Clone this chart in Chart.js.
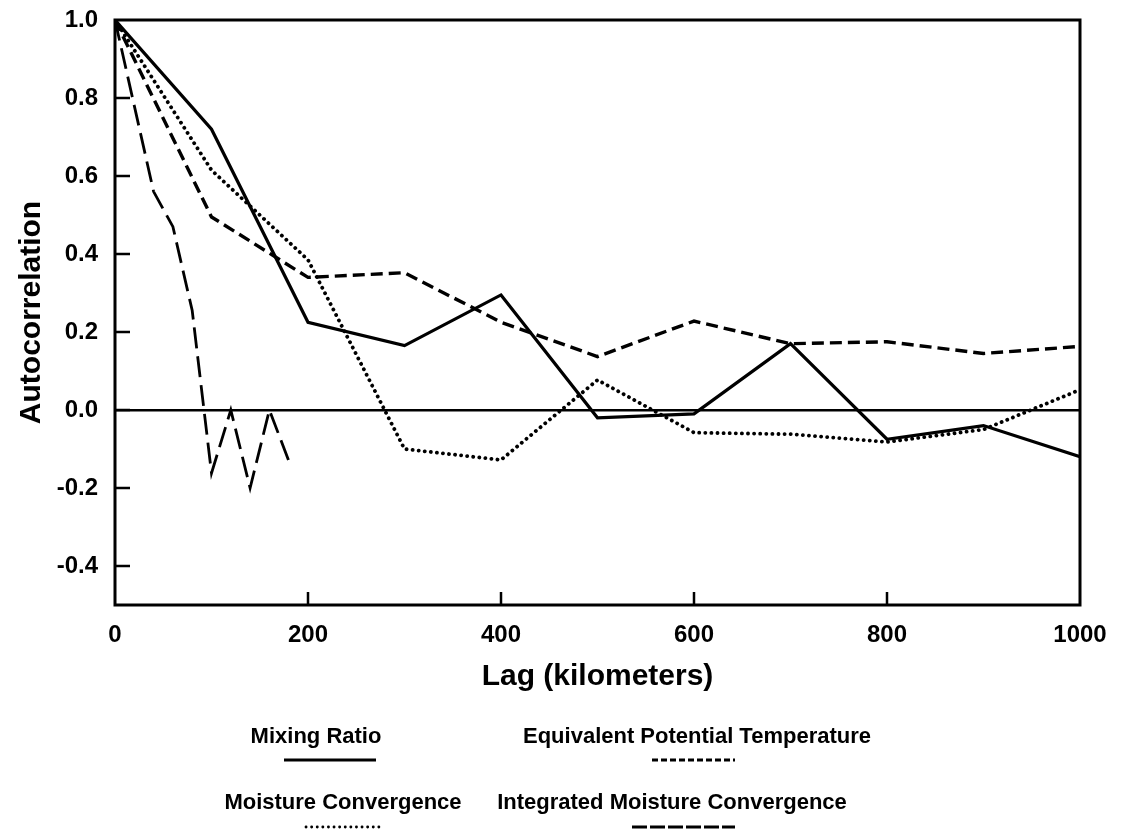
<!DOCTYPE html>
<html>
<head>
<meta charset="utf-8">
<script src="https://cdn.jsdelivr.net/npm/chart.js@4/dist/chart.umd.min.js"></script>
<style>
  html, body { margin: 0; padding: 0; background: #fff; }
  canvas { display: block; }
</style>
</head>
<body>
<canvas id="c" width="1121" height="834"></canvas>
<script>
// ---- data ----
const lags = [0, 100, 200, 300, 400, 500, 600, 700, 800, 900, 1000];
const mixingRatio = [1.0, 0.72, 0.225, 0.165, 0.295, -0.02, -0.01, 0.17, -0.075, -0.04, -0.12];
const equivPotTemp = [1.0, 0.495, 0.34, 0.352, 0.225, 0.137, 0.228, 0.17, 0.175, 0.145, 0.163];
const moistureConv = [1.0, 0.615, 0.385, -0.10, -0.128, 0.077, -0.058, -0.062, -0.082, -0.05, 0.052];
const intLags = [0, 40, 60, 80, 100, 120, 140, 160, 180];
const intMoistureConv = [1.0, 0.56, 0.47, 0.255, -0.162, 0.0, -0.2, 0.0, -0.13];
const seriesNames = ['Mixing Ratio', 'Equivalent Potential Temperature', 'Moisture Convergence', 'Integrated Moisture Convergence'];
const xTickValues = [0, 200, 400, 600, 800, 1000];
const yTickValues = [-0.4, -0.2, 0.0, 0.2, 0.4, 0.6, 0.8, 1.0];

const pts = (xs, ys) => xs.map((x, i) => ({x: x, y: ys[i]}));
const FONT = "'Liberation Sans', Arial, Helvetica, sans-serif";

const insideTicksAndBox = {
  id: 'insideTicksAndBox',
  afterDatasetsDraw(chart) {
    const {ctx, chartArea: a, scales} = chart;
    ctx.save();
    ctx.strokeStyle = '#000';
    ctx.lineWidth = 2.5;
    ctx.beginPath();
    yTickValues.forEach(v => {
      if (v >= 1.0) return;
      const y = scales.y.getPixelForValue(v);
      ctx.moveTo(a.left, y); ctx.lineTo(a.left + 15, y);
    });
    xTickValues.forEach(v => {
      if (v <= 0 || v >= 1000) return;
      const x = scales.x.getPixelForValue(v);
      ctx.moveTo(x, a.bottom); ctx.lineTo(x, a.bottom - 13);
    });
    ctx.stroke();
    ctx.lineWidth = 3;
    ctx.strokeRect(a.left, a.top, a.right - a.left, a.bottom - a.top);
    ctx.restore();
  }
};

const customLegend = {
  id: 'customLegend',
  afterDraw(chart, args, opts) {
    const ctx = chart.ctx;
    ctx.save();
    ctx.fillStyle = '#000';
    ctx.font = 'bold 22px ' + FONT;
    ctx.textAlign = 'center';
    ctx.textBaseline = 'middle';
    opts.items.forEach((it, i) => {
      const ds = chart.data.datasets[i];
      ctx.fillText(ds.label, it.tx, it.ty);
      ctx.beginPath();
      ctx.lineWidth = 2.8;
      ctx.strokeStyle = '#000';
      ctx.lineCap = ds.borderCapStyle || 'butt';
      ctx.setLineDash(ds.legendDash || []);
      ctx.moveTo(it.x1, it.ly); ctx.lineTo(it.x2, it.ly);
      ctx.stroke();
    });
    ctx.restore();
  }
};

new Chart(document.getElementById('c'), {
  type: 'line',
  data: {
    datasets: [
      { label: seriesNames[0], data: pts(lags, mixingRatio), borderColor: '#000', borderWidth: 3.2, pointRadius: 0, borderDash: [], legendDash: [] },
      { label: seriesNames[1], data: pts(lags, equivPotTemp), borderColor: '#000', borderWidth: 3.4, pointRadius: 0, borderDash: [12, 6], legendDash: [6, 3] },
      { label: seriesNames[2], data: pts(lags, moistureConv), borderColor: '#000', borderWidth: 3.8, pointRadius: 0, borderDash: [0.1, 6], borderCapStyle: 'round', legendDash: [0.1, 5.5] },
      { label: seriesNames[3], data: pts(intLags, intMoistureConv), borderColor: '#000', borderWidth: 2.8, pointRadius: 0, borderDash: [21, 8], legendDash: [15, 3] }
    ]
  },
  options: {
    responsive: false,
    animation: false,
    layout: { padding: { top: 20, right: 41, bottom: 139, left: 0 } },
    plugins: {
      legend: { display: false },
      tooltip: { enabled: false },
      customLegend: {
        items: [
          { tx: 316, ty: 737, x1: 284, x2: 376, ly: 760 },
          { tx: 697, ty: 737, x1: 652, x2: 735, ly: 760 },
          { tx: 343, ty: 803, x1: 306, x2: 381, ly: 827 },
          { tx: 672, ty: 803, x1: 632, x2: 735, ly: 827 }
        ]
      }
    },
    scales: {
      x: {
        type: 'linear',
        min: 0, max: 1000,
        afterBuildTicks: s => { s.ticks = xTickValues.map(v => ({value: v})); },
        afterFit: s => { s.height = 90; s.paddingLeft = 0; s.paddingRight = 0; },
        grid: { display: false, drawTicks: false },
        border: { display: false },
        ticks: { color: '#000', font: { family: FONT, size: 24, weight: 'bold' }, padding: 16, maxRotation: 0, callback: v => String(v) },
        title: { display: true, text: 'Lag (kilometers)', color: '#000', font: { family: FONT, size: 30, weight: 'bold' }, padding: { top: 0, bottom: 0 } }
      },
      y: {
        type: 'linear',
        min: -0.5, max: 1.0,
        afterBuildTicks: s => { s.ticks = yTickValues.map(v => ({value: v})); },
        afterFit: s => { s.width = 115; s.paddingTop = 0; s.paddingBottom = 0; },
        grid: {
          drawTicks: false,
          color: c => (c.tick && Math.abs(c.tick.value) < 1e-9) ? '#000' : 'rgba(0,0,0,0)',
          lineWidth: 2.5
        },
        border: { display: false },
        ticks: { color: '#000', font: { family: FONT, size: 24, weight: 'bold' }, padding: 17, callback: v => v.toFixed(1) },
        title: { display: true, text: 'Autocorrelation', color: '#000', font: { family: FONT, size: 30, weight: 'bold' }, padding: { top: 14, bottom: 0 } }
      }
    }
  },
  plugins: [insideTicksAndBox, customLegend]
});
</script>
</body>
</html>
